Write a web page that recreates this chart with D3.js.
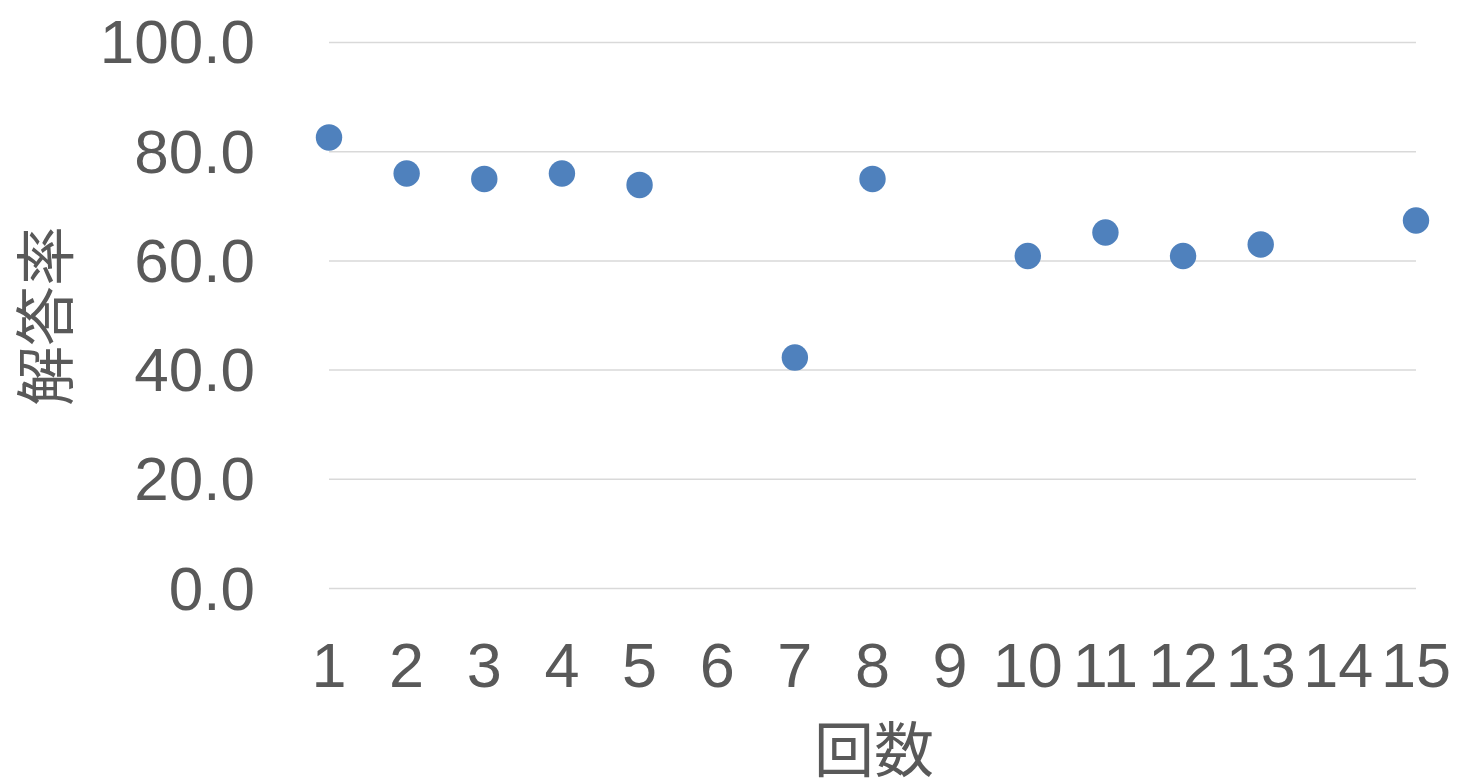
<!DOCTYPE html>
<html>
<head>
<meta charset="utf-8">
<script src="https://cdn.jsdelivr.net/npm/d3@7"></script>
<style>
  html, body { margin: 0; padding: 0; background: #fff; }
  svg { display: block; }
</style>
</head>
<body>
<svg id="chart" width="1457" height="781"></svg>
<script>
// Round numbers and answer rates (rounds 6, 9 and 14 have no value)
const rounds = [1, 2, 3, 4, 5, 7, 8, 10, 11, 12, 13, 15];
const rates  = [82.6, 76.0, 75.0, 76.0, 73.9, 42.3, 75.0, 60.9, 65.2, 60.9, 63.0, 67.4];
const xTicks = [1, 2, 3, 4, 5, 6, 7, 8, 9, 10, 11, 12, 13, 14, 15];
const yTicks = [0, 20, 40, 60, 80, 100];
const xTitle = "回数";
const yTitle = "解答率";

const svg = d3.select("#chart");
const textColor = "#595959";
const latin = "'Liberation Sans', Arial, sans-serif";
const cjk = "'Noto Sans CJK JP', 'Noto Sans CJK SC', sans-serif";

const x = d3.scaleLinear().domain([1, 15]).range([329, 1416]);
const y = d3.scaleLinear().domain([0, 100]).range([588.6, 42.4]);

// Horizontal gridlines
svg.append("g")
  .selectAll("line")
  .data(yTicks)
  .join("line")
  .attr("x1", x(1)).attr("x2", x(15))
  .attr("y1", d => y(d)).attr("y2", d => y(d))
  .attr("stroke", "#d9d9d9")
  .attr("stroke-width", 1.5);

// Y tick labels
svg.append("g")
  .selectAll("text")
  .data(yTicks)
  .join("text")
  .attr("x", 255)
  .attr("y", d => y(d) + 21)
  .attr("text-anchor", "end")
  .attr("font-family", latin)
  .attr("font-size", 62)
  .attr("fill", textColor)
  .text(d => d3.format(".1f")(d));

// X tick labels
svg.append("g")
  .selectAll("text")
  .data(xTicks)
  .join("text")
  .attr("x", d => x(d))
  .attr("y", 687)
  .attr("text-anchor", "middle")
  .attr("font-family", latin)
  .attr("font-size", 63)
  .attr("fill", textColor)
  .text(d => d);

// Points
svg.append("g")
  .selectAll("circle")
  .data(rounds.map((r, i) => ({ r, v: rates[i] })))
  .join("circle")
  .attr("cx", d => x(d.r))
  .attr("cy", d => y(d.v))
  .attr("r", 13.2)
  .attr("fill", "#4f81bd");

// Axis titles
svg.append("text")
  .attr("x", 874)
  .attr("y", 772)
  .attr("text-anchor", "middle")
  .attr("font-family", cjk)
  .attr("font-size", 60)
  .attr("fill", textColor)
  .text(xTitle);

svg.append("text")
  .attr("transform", "translate(68,316) rotate(-90)")
  .attr("text-anchor", "middle")
  .attr("font-family", cjk)
  .attr("font-size", 60)
  .attr("fill", textColor)
  .text(yTitle);
</script>
</body>
</html>
